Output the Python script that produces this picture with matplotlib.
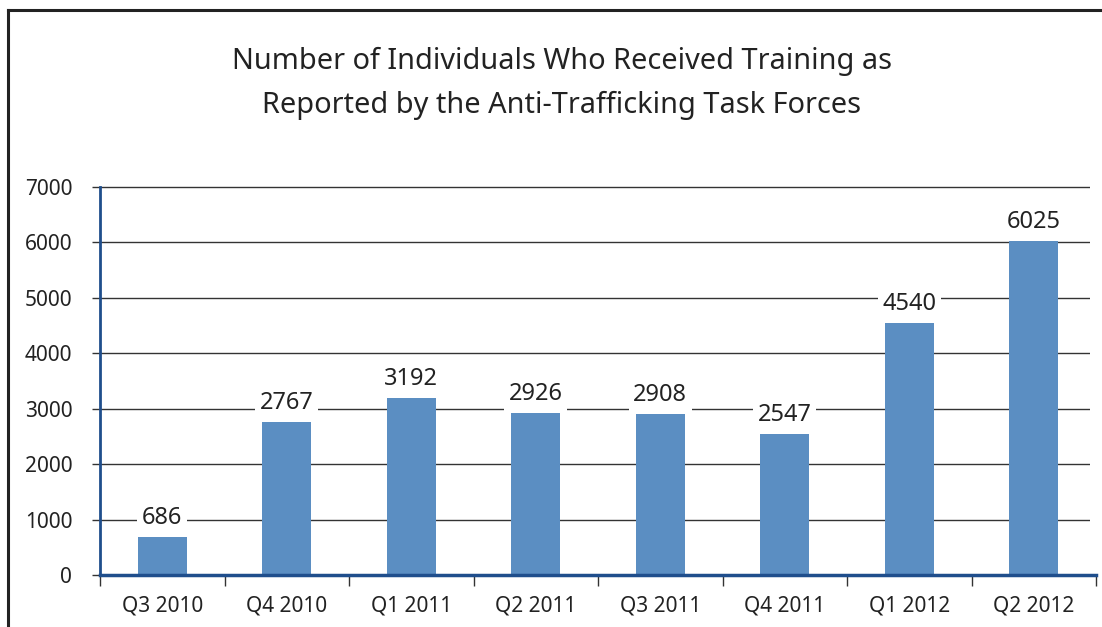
import matplotlib
matplotlib.use("Agg")
import matplotlib.pyplot as plt
from matplotlib.lines import Line2D
from matplotlib.patches import Rectangle
from matplotlib.ticker import FixedLocator

categories = ["Q3 2010", "Q4 2010", "Q1 2011", "Q2 2011", "Q3 2011", "Q4 2011", "Q1 2012", "Q2 2012"]
values = [686, 2767, 3192, 2926, 2908, 2547, 4540, 6025]
yticks = [0, 1000, 2000, 3000, 4000, 5000, 6000, 7000]

plt.rcParams['font.family'] = ['Noto Sans', 'DejaVu Sans']

fig = plt.figure(figsize=(11.02, 6.27), dpi=100)
ax = fig.add_axes([100/1102, 1-575/627, 996/1102, (575-187)/627])

x = list(range(len(categories)))
ax.bar(x, values, width=0.39, color="#5b8ec2", zorder=2)
ax.set_xlim(-0.5, len(categories) - 0.5)
ax.set_ylim(0, 7000)
ax.set_yticks(yticks)
ax.set_yticklabels([str(t) for t in yticks], fontsize=15, color="#222222")
ax.yaxis.grid(True, color="#333333", linewidth=1.0, zorder=0)
ax.set_axisbelow(True)
ax.tick_params(axis='y', length=6, width=1, color="#333333", pad=14)

ax.set_xticks(x)
ax.set_xticklabels(categories, fontsize=15, color="#222222")
ax.tick_params(axis='x', which='major', length=0, pad=15)
ax.xaxis.set_minor_locator(FixedLocator([i - 0.5 for i in range(len(categories) + 1)]))
ax.tick_params(axis='x', which='minor', length=8, width=1, color="#333333", direction='out')

for s in ["top", "right"]:
    ax.spines[s].set_visible(False)
ax.spines["left"].set_color("#1f4e8c")
ax.spines["left"].set_linewidth(2)
ax.spines["bottom"].set_color("#1f4e8c")
ax.spines["bottom"].set_linewidth(2.5)

# gridlines stop a little short of the axis end
clip = Rectangle((0, -0.01), (1090 - 100) / 996, 1.02, transform=ax.transAxes,
                 fill=False, visible=False)
ax.add_patch(clip)
for gl in ax.get_ygridlines():
    gl.set_clip_path(clip)

for xi, v in zip(x, values):
    ax.annotate(str(v), (xi, v), xytext=(0, 5), textcoords="offset points",
                ha="center", va="bottom", fontsize=17, color="#222222",
                bbox=dict(boxstyle="square,pad=0.2", fc="white", ec="none"), zorder=3)

fig.text(562/1102, 1-61/627, "Number of Individuals Who Received Training as",
         ha="center", va="center", fontsize=20.8, color="#222222")
fig.text(562/1102, 1-105/627, "Reported by the Anti-Trafficking Task Forces",
         ha="center", va="center", fontsize=20.8, color="#222222")

# frame (left and top only)
lw = 2.2
fig.add_artist(Line2D([8/1102, 8/1102], [0, 1-10/627], transform=fig.transFigure, color="#222222", lw=lw))
fig.add_artist(Line2D([8/1102, 1.0], [1-10/627, 1-10/627], transform=fig.transFigure, color="#222222", lw=lw))

fig.savefig("out.png", dpi=100)
